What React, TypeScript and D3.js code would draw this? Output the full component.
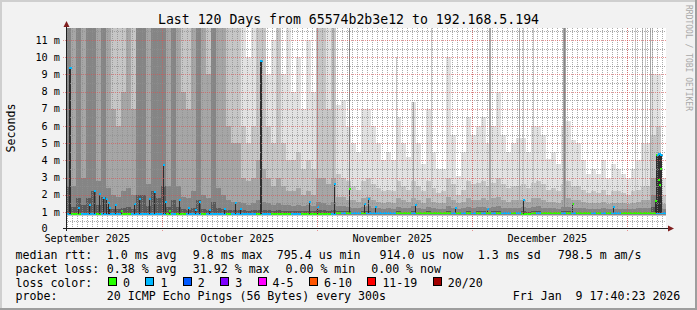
import React from 'react';
import * as d3 from 'd3';

// ---------- data ----------
const DAY_MS = 86400000;
const START = new Date(Date.UTC(2025, 8, 11, 17, 40));
const END = new Date(Date.UTC(2026, 0, 9, 17, 40));

// per-day upper ping values (ms), outermost (max) to innermost
const P20 = [
  12, 12, 12, 12, 12, 12, 12, 12, 12, 12,
  12, 12, 12, 12, 12, 12, 12, 12, 12, 12,
  12, 12, 12, 12, 12, 12, 12, 12, 12, 12,
  12, 12, 12, 12, 12, 12, 10, 12, 12, 12,
  9, 11, 12, 9, 12, 8, 10, 7, 11, 8,
  12, 12, 12, 12, 7.2, 7.5, 6, 5, 4.5, 7,
  7, 6, 5, 4, 4.5, 4, 6.5, 5, 4.2, 7.4,
  5, 3.8, 7, 4.5, 3.5, 3.5, 10, 5.5, 3.1, 4.5,
  6.5, 5.5, 6, 6.5, 5, 6, 8, 5.5, 4.5, 5,
  5.3, 5.3, 4.5, 6, 6, 5.5, 4.1, 4.5, 3.8, 6,
  6.3, 5.2, 5, 4, 3.2, 3.5, 3.2, 4, 3, 3.8,
  3.5, 3.2, 3, 3.5, 4, 5, 5, 9, 9, 3,
];
const P18 = [
  12, 12, 12, 12, 12, 12, 12, 12, 12, 12,
  12, 12, 12, 12, 12, 12, 12, 12, 12, 12,
  12, 12, 12, 12, 12, 12, 12, 12, 12, 12,
  12, 12, 12, 12, 12, 6, 5, 6, 12, 12,
  6, 5, 12, 5, 4, 4, 4.5, 3.5, 4, 3.5,
  12, 12, 7, 12, 3.2, 3, 2.8, 2.5, 2.3, 2.8,
  3, 2.6, 2.4, 2.2, 2.3, 2.2, 2.8, 2.5, 2.3, 2.8,
  2.5, 2.2, 2.8, 2.4, 2.1, 2.2, 3, 2.6, 2, 2.3,
  2.8, 2.6, 2.7, 2.8, 2.5, 2.7, 3, 2.6, 2.4, 2.5,
  2.5, 2.6, 2.4, 2.7, 2.8, 2.6, 2.3, 2.4, 2.2, 2.6,
  2.8, 2.5, 2.5, 2.3, 2.1, 2.2, 2.1, 2.3, 2, 2.2,
  2.2, 2.1, 2, 2.2, 2.3, 2.5, 2.5, 5.5, 6, 2,
];
const P16 = [
  12, 12, 12, 12, 12, 12, 12, 12, 12, 7,
  6, 8, 12, 7, 12, 12, 12, 12, 12, 12,
  12, 12, 12, 8, 7, 12, 12, 12, 9, 12,
  12, 12, 6, 5, 5, 3, 2.8, 3, 4, 3.5,
  3, 2.5, 3, 2.5, 2.2, 2.2, 2.4, 2, 2.2, 2,
  3, 3, 2.6, 3, 1.9, 1.9, 1.7, 1.7, 1.6, 1.8,
  1.9, 1.7, 1.6, 1.5, 1.6, 1.5, 1.8, 1.7, 1.6, 1.8,
  1.7, 1.5, 1.8, 1.6, 1.5, 1.5, 1.9, 1.7, 1.5, 1.6,
  1.8, 1.7, 1.7, 1.8, 1.7, 1.8, 1.9, 1.7, 1.6, 1.7,
  1.7, 1.7, 1.6, 1.8, 1.8, 1.7, 1.6, 1.6, 1.5, 1.7,
  1.8, 1.7, 1.7, 1.6, 1.5, 1.5, 1.5, 1.6, 1.45, 1.5,
  1.5, 1.5, 1.45, 1.5, 1.6, 1.7, 1.7, 3, 3.5, 1.45,
];
const P14 = [
  12, 2.5, 12, 3, 12, 12, 2.8, 12, 2.4, 2,
  1.9, 2.2, 2.4, 2, 12, 12, 2.6, 12, 12, 12,
  2.5, 12, 2.5, 1.9, 1.8, 2.2, 12, 2, 1.8, 12,
  2.4, 2, 1.7, 1.6, 1.6, 1.5, 1.4, 1.5, 1.7, 1.6,
  1.5, 1.4, 1.5, 1.4, 1.4, 1.35, 1.4, 1.35, 1.4, 1.35,
  1.6, 1.5, 1.4, 1.6, 1.35, 1.35, 1.3, 1.25, 1.25, 1.3,
  1.35, 1.25, 1.25, 1.2, 1.25, 1.2, 1.3, 1.25, 1.25, 1.35,
  1.25, 1.2, 1.3, 1.25, 1.2, 1.2, 1.35, 1.25, 1.2, 1.25,
  1.3, 1.25, 1.3, 1.3, 1.25, 1.3, 1.35, 1.25, 1.25, 1.25,
  1.25, 1.3, 1.25, 1.3, 1.35, 1.25, 1.25, 1.25, 1.2, 1.3,
  1.3, 1.25, 1.25, 1.25, 1.2, 1.2, 1.2, 1.25, 1.15, 1.2,
  1.2, 1.2, 1.15, 1.2, 1.25, 1.25, 1.25, 2, 2.2, 1.15,
];
const P12 = [
  2.5, 1.3, 1.8, 1.4, 1.8, 2.2, 1.4, 1.9, 1.3, 1.2,
  1.15, 1.25, 1.3, 1.2, 2, 2, 1.35, 2.2, 1.8, 2.5,
  1.3, 1.7, 1.3, 1.15, 1.1, 1.25, 1.7, 1.2, 1.1, 1.6,
  1.25, 1.2, 1.1, 1.1, 1.1, 1.1, 1.05, 1.1, 1.1, 1.1,
  1.1, 1.05, 1.1, 1.05, 1.05, 1.05, 1.05, 1.05, 1.05, 1.05,
  1.1, 1.1, 1.05, 1.1, 1.05, 1.05, 1.05, 1, 1, 1.05,
  1.05, 1, 1, 1, 1, 1, 1.05, 1, 1, 1.05,
  1, 1, 1.05, 1, 1, 1, 1.05, 1, 1, 1,
  1.05, 1, 1.05, 1.05, 1, 1.05, 1.05, 1, 1, 1,
  1, 1.05, 1, 1.05, 1.05, 1, 1, 1, 1, 1.05,
  1.05, 1, 1, 1, 1, 1, 1, 1, 1, 1,
  1, 1, 1, 1, 1, 1, 1, 1.3, 1.4, 1,
];
// lower pings (bottom edge of each smoke band), ms
const LOW_PINGS = [0.74, 0.77, 0.8, 0.83, 0.86];

// per-day median rtt (ms) and lost pings
const MEDIAN = [
  0.87, 0.87, 0.87, 0.87, 0.87, 0.87, 0.87, 0.87, 0.87, 0.87,
  0.87, 0.87, 0.87, 0.87, 0.87, 0.87, 0.87, 0.87, 0.87, 0.87,
  0.87, 0.87, 0.87, 0.87, 0.87, 0.87, 0.87, 0.87, 0.87, 0.87,
  0.87, 0.87, 0.87, 0.87, 0.87, 0.9, 0.9, 0.9, 0.9, 0.9,
  0.9, 0.9, 0.9, 0.9, 0.9, 0.9, 0.9, 0.9, 0.9, 0.9,
  0.9, 0.9, 0.9, 0.9, 0.93, 0.93, 0.93, 0.93, 0.93, 0.93,
  0.93, 0.93, 0.93, 0.93, 0.93, 0.93, 0.93, 0.93, 0.93, 0.93,
  0.93, 0.93, 0.93, 0.93, 0.93, 0.93, 0.93, 0.93, 0.93, 0.93,
  0.93, 0.93, 0.93, 0.93, 0.93, 0.93, 0.93, 0.93, 0.93, 0.93,
  0.92, 0.9, 0.9, 0.93, 0.93, 0.93, 0.93, 0.93, 0.93, 0.93,
  0.93, 0.93, 0.93, 0.93, 0.93, 0.93, 0.93, 0.93, 0.93, 0.93,
  0.95, 0.95, 0.95, 0.95, 0.95, 0.95, 0.95, 0.95, 0.95, 0.95,
];
const LOSS = [
  1, 0, 0, 1, 1, 1, 0, 1, 1, 1,
  1, 0, 0, 1, 1, 1, 1, 1, 1, 1,
  0, 1, 0, 0, 1, 1, 1, 0, 1, 1,
  1, 1, 0, 1, 1, 1, 1, 1, 0, 1,
  1, 0, 0, 0, 0, 1, 1, 0, 0, 0,
  0, 0, 0, 1, 0, 1, 0, 1, 1, 0,
  1, 1, 1, 1, 1, 1, 0, 0, 0, 1,
  0, 0, 0, 0, 0, 0, 0, 1, 0, 1,
  0, 1, 0, 1, 0, 1, 0, 1, 1, 0,
  1, 0, 0, 0, 1, 0, 0, 0, 0, 1,
  0, 1, 0, 0, 0, 1, 0, 1, 0, 1,
  1, 0, 0, 0, 0, 0, 0, 0, 1, 1,
];

// narrow (single-step) smoke columns: day offset, top value (ms), bands reaching it
const NARROW_DAY = [50.2, 53.4, 56.6, 66.0, 69.4, 73.0, 84.6, 84.8, 90.6, 91.4, 93.4, 99.4, 99.6, 99.8, 113.8, 115.2, 115.8, 116.8, 117.2];
const NARROW_TOP = [12, 12, 12, 10, 7.4, 12, 12, 12, 12, 12, 12, 12, 12, 12, 12, 12, 12, 12, 12];
const NARROW_LEVEL = [3, 3, 4, 2, 3, 2, 3, 3, 3, 2, 2, 3, 4, 3, 2, 2, 2, 3, 2];

// median spikes: day offset, median value (ms), lost pings
const SPIKE_DAY = [
  0.6, 0.8, 2.4, 4.6, 5.6, 6.6, 7.4, 8.0, 8.4, 8.6, 9.8, 11.0, 13.6, 14.6, 16.6, 17.6,
  19.4, 19.8, 20.6, 22.6, 24.4, 25.8, 26.6, 28.6, 31.6, 33.8, 34.8, 38.8, 39.0, 48.6,
  50.2, 53.6, 56.6, 59.6, 60.4, 61.8, 69.8, 77.8, 84.2, 91.4, 101.2, 109.4, 117.8,
  118.0, 118.2, 118.4, 118.6, 118.8, 119.0, 118.4, 118.6, 118.8,
];
const SPIKE_VAL = [
  9.38, 9.38, 1.22, 1.38, 2.2, 2.06, 1.83, 1.77, 1.51, 1.22, 1.38, 1.08, 1.48, 1.77, 1.73, 2.16,
  3.76, 1.57, 1.08, 1.67, 1.22, 1.1, 1.57, 1.1, 1.2, 1.51, 1.15, 9.77, 9.77, 1.61,
  1.32, 2.65, 2.31, 1.48, 1.77, 1.32, 1.38, 1.25, 1.2, 1.67, 1.48, 1.28, 1.63,
  4.3, 4.3, 4.4, 4.4, 4.3, 4.3, 2.84, 2.55, 3.5,
];
const SPIKE_LOSS = [
  1, 1, 1, 1, 1, 1, 1, 1, 1, 1, 1, 0, 1, 1, 1, 1,
  1, 1, 0, 1, 1, 1, 1, 1, 1, 1, 1, 1, 1, 1,
  1, 1, 0, 1, 1, 1, 1, 1, 1, 1, 0, 1, 0,
  0, 1, 1, 1, 1, 1, 0, 0, 0,
];

const LOSS_LABELS = ['0', '1', '2', '3', '4-5', '6-10', '11-19', '20/20'];
const LOSS_COLORS = ['#26ff00', '#00b8ff', '#0059ff', '#7e00ff', '#ff00ff', '#ff5500', '#ff0000', '#a10000'];

const Y_TICKS = [0, 1, 2, 3, 4, 5, 6, 7, 8, 9, 10, 11];
const Y_MINOR = [0.5, 1.5, 2.5, 3.5, 4.5, 5.5, 6.5, 7.5, 8.5, 9.5, 10.5, 11.5];
const MONTH_GRID = ['2025-10-01', '2025-11-01', '2025-12-02', '2026-01-02'];
const MONTH_LABEL_AT = ['2025-09-16', '2025-10-16', '2025-11-16', '2025-12-17'];
const MONTH_LABELS = ['September 2025', 'October 2025', 'November 2025', 'December 2025'];

const TITLE = 'Last 120 Days from 65574b2b3e12 to 192.168.5.194';
const RTT_ITEMS = ['median rtt:', '1.0 ms avg', '9.8 ms max', '795.4 us min', '914.0 us now', '1.3 ms sd', '798.5 m am/s'];
const LOSS_ITEMS = ['packet loss:', '0.38 % avg', '31.92 % max', '0.00 % min', '0.00 % now'];
const PROBE_ITEMS = ['probe:', '20 ICMP Echo Pings (56 Bytes) every 300s'];
const STAMP = 'Fri Jan\u00a0 9 17:40:23 2026';

const SHADES = ['#e2e2e2', '#c6c6c6', '#a6a6a6', '#858585', '#595959'];

export default function App() {
  const W = 697;
  const H = 310;
  const L = 66, R = 666, T = 28;
  const x = d3.scaleUtc().domain([START, END]).range([L, R]);
  const y = d3.scaleLinear().domain([0, 11.7]).range([229.2, T]);
  const at = (d: number) => new Date(START.getTime() + d * DAY_MS);
  const yc = (v: number) => y(Math.min(v, 11.8));
  const bands = (i: number) => [P20[i], P18[i], P16[i], P14[i], P12[i]];
  const mono = 'DejaVu Sans Mono, monospace';
  const CW = 7.0; // legend char width

  const smoke: React.ReactNode[] = [];
  P20.forEach((_, i) => {
    const x0 = x(at(i));
    const x1 = x(at(i + 1));
    bands(i).forEach((v, k) => {
      smoke.push(
        <rect key={`s${i}_${k}`} x={x0} width={x1 - x0} y={yc(v)} height={y(LOW_PINGS[k]) - yc(v)} fill={SHADES[k]} />
      );
    });
  });
  NARROW_DAY.forEach((t, j) => {
    const i = Math.floor(t);
    const x0 = x(at(t));
    const x1 = x(at(t + 0.2));
    bands(i)
      .map((v, k) => (k < NARROW_LEVEL[j] ? Math.max(v, NARROW_TOP[j]) : v))
      .forEach((v, k) => {
        smoke.push(
          <rect key={`n${j}_${k}`} x={x0} width={x1 - x0} y={yc(v)} height={y(LOW_PINGS[k]) - yc(v)} fill={SHADES[k]} />
        );
      });
  });

  const medians = MEDIAN.map((m, i) => {
    const x0 = x(at(i));
    const x1 = x(at(i + 1));
    return <rect key={`m${i}`} x={x0} width={x1 - x0} y={y(m) - 1} height={2} fill={LOSS_COLORS[LOSS[i]]} />;
  });

  const spikeBars = SPIKE_DAY.map((t, j) => {
    const i = Math.floor(t);
    const x0 = Math.round(x(at(t)));
    const x1 = Math.round(x(at(t + 0.2)));
    return (
      <rect key={`sb${j}`} x={x0} width={Math.max(1, x1 - x0)} y={y(SPIKE_VAL[j])} height={y(MEDIAN[i]) - y(SPIKE_VAL[j])} fill="#2e2e2e" />
    );
  });
  const spikeMarks = SPIKE_DAY.map((t, j) => {
    const x0 = Math.round(x(at(t)));
    return <rect key={`sm${j}`} x={x0} width={2} y={y(SPIKE_VAL[j]) - 1} height={2} fill={LOSS_COLORS[SPIKE_LOSS[j]]} />;
  });

  const px = (v: number) => Math.round(v) + 0.5;
  const days = d3.utcDay.range(START, END);
  const minorColor = 'rgba(143,143,143,0.75)';
  const majorColor = 'rgba(222,79,79,0.6)';

  const rttX = [15.5, 106.8, 192.8, 276.8, 379.5, 477.8, 557.8];
  const lossX = [15.5, 106.8, 192.8, 285.5, 371.2];
  const probeX = [15.5, 106.8];
  const baselines = [258.7, 272.6, 286.5, 300.4];

  // loss legend boxes
  const boxes: React.ReactNode[] = [];
  let bx = 108.5;
  LOSS_LABELS.forEach((lab, i) => {
    boxes.push(<rect key={`b${i}`} x={bx} y={277.5} width={8} height={8} fill={LOSS_COLORS[i]} stroke="#000" strokeWidth={1} />);
    boxes.push(
      <text key={`bt${i}`} x={bx + 14.5} y={baselines[2]} fontFamily={mono} fontSize={11.6} fill="#000">
        {lab}
      </text>
    );
    bx += 15 + CW * lab.length + 15.4;
  });

  return (
    <svg width={W} height={H} style={{ position: 'absolute', left: 0, top: 0 }} xmlns="http://www.w3.org/2000/svg">
      <defs>
        <clipPath id="plotclip">
          <rect x={L} y={T} width={R - L} height={229 - T} />
        </clipPath>
      </defs>
      <rect x={0} y={0} width={W} height={H} fill="#f2f2f2" />
      <rect x={0} y={0} width={W} height={2} fill="#cfcfcf" />
      <rect x={0} y={0} width={2} height={H} fill="#cfcfcf" />
      <rect x={0} y={H - 2} width={W} height={2} fill="#9e9e9e" />
      <rect x={W - 2} y={0} width={2} height={H} fill="#9e9e9e" />

      <rect x={L} y={T} width={R - L} height={229 - T} fill="#ffffff" />
      <g clipPath="url(#plotclip)" shapeRendering="crispEdges">
        {smoke}
        {medians}
        {spikeBars}
        {spikeMarks}
      </g>

      {/* grid */}
      <g shapeRendering="crispEdges" strokeWidth={1} strokeDasharray="1,1" fill="none">
        {Y_MINOR.map((v) => (
          <line key={`ym${v}`} x1={L} x2={R} y1={px(y(v))} y2={px(y(v))} stroke={minorColor} />
        ))}
        {days.map((d, i) => (
          <line key={`xm${i}`} x1={Math.floor(x(d)) + 0.5} x2={Math.floor(x(d)) + 0.5} y1={T} y2={229} stroke={minorColor} />
        ))}
        {Y_TICKS.filter((v) => v > 0).map((v) => (
          <line key={`yM${v}`} x1={63} x2={R} y1={px(y(v))} y2={px(y(v))} stroke={majorColor} />
        ))}
        {MONTH_GRID.map((s) => {
          const xv = Math.floor(x(new Date(s + 'T00:00:00Z'))) + 0.5;
          return <line key={`xM${s}`} x1={xv} x2={xv} y1={T} y2={231} stroke={majorColor} />;
        })}
      </g>

      {/* axes */}
      <g shapeRendering="crispEdges">
        <line x1={63} x2={670} y1={228.5} y2={228.5} stroke="#1f1f1f" />
        <line x1={66.5} x2={66.5} y1={231} y2={24} stroke="#1f1f1f" />
      </g>
      <polygon points="668,225.5 674,228.5 668,231.5" fill="#801f1f" />
      <polygon points="63.5,27 66.5,21 69.5,27" fill="#801f1f" />

      {/* y labels */}
      {Y_TICKS.map((v) => (
        <text
          key={`yl${v}`}
          x={v === 0 ? 47.7 : 60}
          y={y(v) + (v === 0 ? 2.8 : 3.6)}
          textAnchor="end"
          fontFamily={mono}
          fontSize={10.2}
          fill="#000"
        >
          {v === 0 ? '0' : `${v} m`}
        </text>
      ))}
      {/* x labels */}
      {MONTH_LABEL_AT.map((s, i) => (
        <text
          key={`xl${i}`}
          x={x(new Date(s + 'T00:00:00Z'))}
          y={241.5}
          textAnchor="middle"
          fontFamily={mono}
          fontSize={10.2}
          fill="#000"
        >
          {MONTH_LABELS[i]}
        </text>
      ))}

      {/* title, unit, watermark */}
      <text x={348.5} y={24} textAnchor="middle" fontFamily={mono} fontSize={13.2} fill="#000">
        {TITLE}
      </text>
      <text transform="translate(15,128) rotate(-90)" textAnchor="middle" fontFamily={mono} fontSize={11.6} fill="#000">
        Seconds
      </text>
      <text transform="translate(685.5,5) rotate(90)" fontFamily={mono} fontSize={8} fill="#a8a8a8">
        RRDTOOL / TOBI OETIKER
      </text>

      {/* legend */}
      <g fontFamily={mono} fontSize={11.6} fill="#000">
        {RTT_ITEMS.map((s, i) => (
          <text key={`r${i}`} x={rttX[i]} y={baselines[0]}>
            {s}
          </text>
        ))}
        {LOSS_ITEMS.map((s, i) => (
          <text key={`l${i}`} x={lossX[i]} y={baselines[1]}>
            {s}
          </text>
        ))}
        <text x={15.5} y={baselines[2]}>
          loss color:
        </text>
        {PROBE_ITEMS.map((s, i) => (
          <text key={`p${i}`} x={probeX[i]} y={baselines[3]}>
            {s}
          </text>
        ))}
        <text x={512.8} y={baselines[3]}>
          {STAMP}
        </text>
      </g>
      <g shapeRendering="crispEdges">{boxes}</g>
    </svg>
  );
}
